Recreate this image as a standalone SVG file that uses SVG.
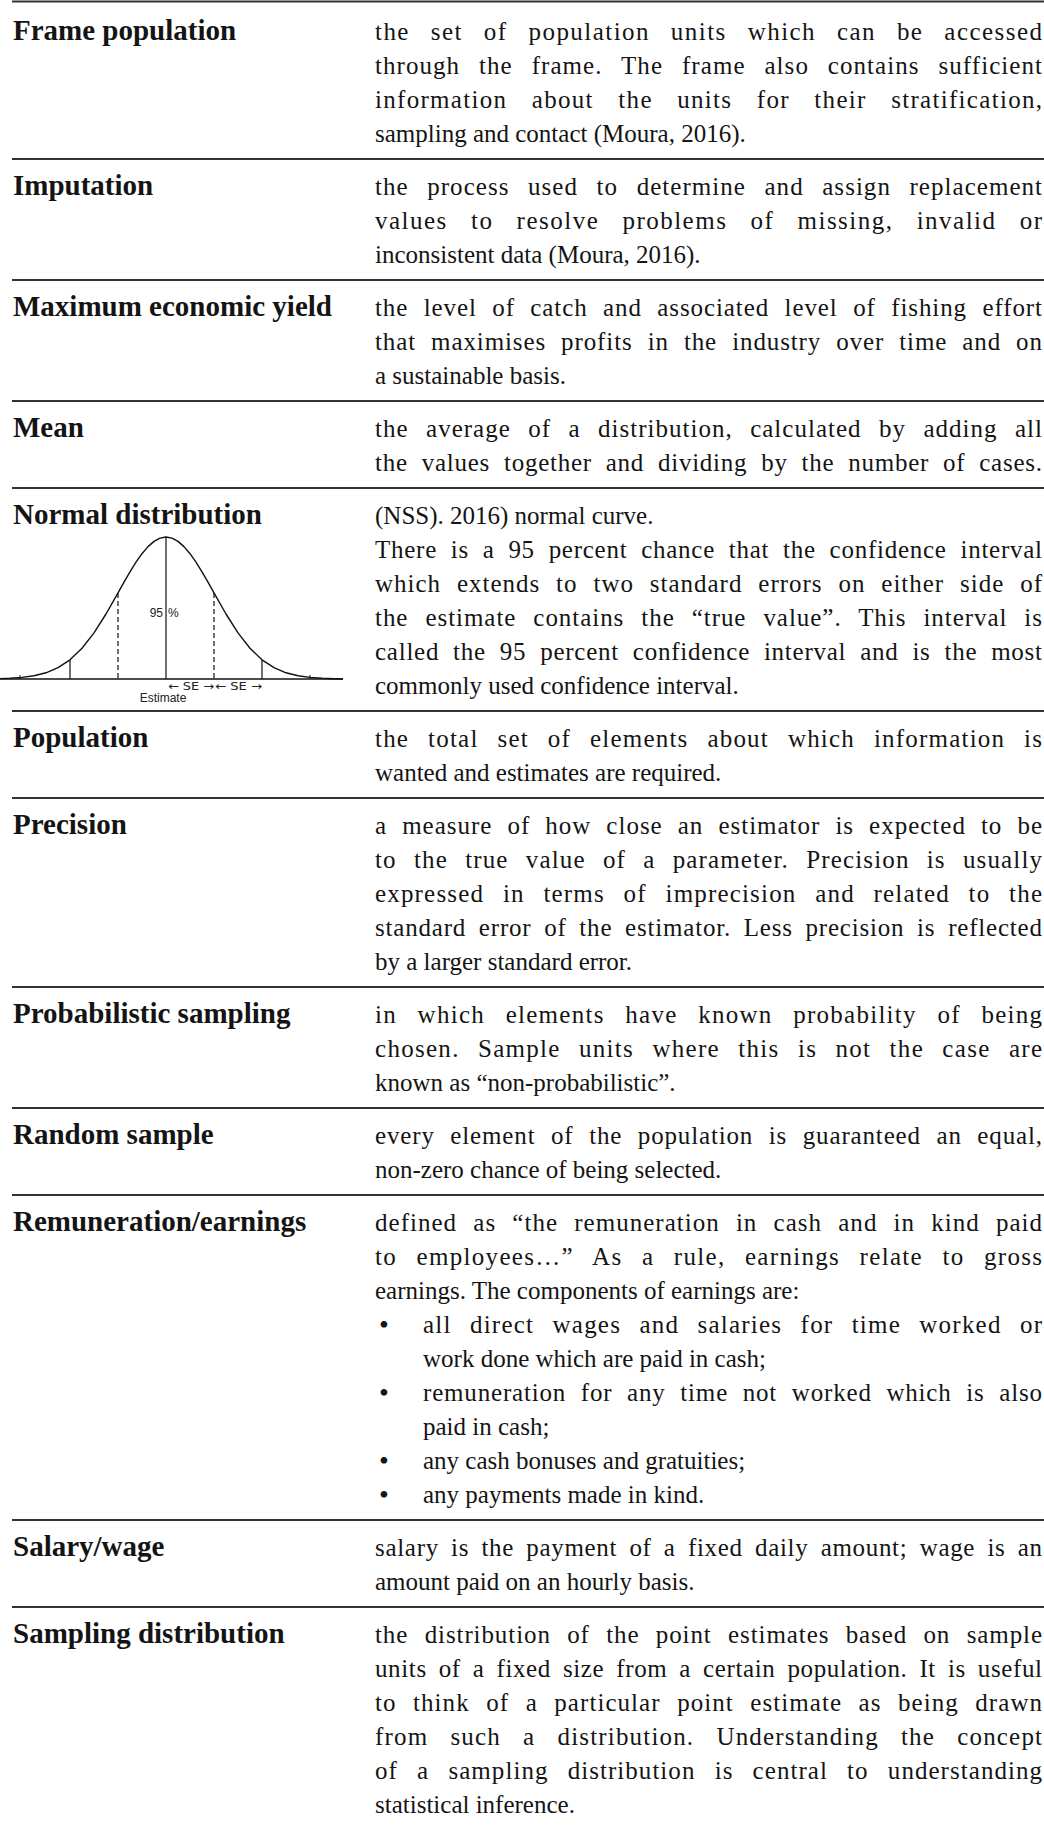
<svg xmlns="http://www.w3.org/2000/svg" width="1044" height="1830" viewBox="0 0 1044 1830">
  <style>
    .term { font-family: "Liberation Serif", "Times New Roman", serif; font-weight: bold; font-size: 29px; fill: #141414; }
    .def { font-family: "Liberation Serif", "Times New Roman", serif; font-size: 25px; fill: #141414; }
    .bullet { font-family: "Liberation Serif", "Times New Roman", serif; font-size: 28px; fill: #141414; }
    .rule { stroke: #333; stroke-width: 2; }
    .fig { stroke: #111; fill: none; }
    .figtext { font-family: "Liberation Sans", Arial, sans-serif; font-size: 12px; fill: #222; }
    .arrowtext { font-family: "DejaVu Sans", "Liberation Sans", sans-serif; font-size: 11px; fill: #222; }
  </style>

  <!-- horizontal table rules -->
  <g id="rules">
    <line class="rule" x1="12" y1="1.5" x2="1044" y2="1.5"/>
    <line class="rule" x1="12" y1="159" x2="1044" y2="159"/>
    <line class="rule" x1="12" y1="280" x2="1044" y2="280"/>
    <line class="rule" x1="12" y1="401" x2="1044" y2="401"/>
    <line class="rule" x1="12" y1="488" x2="1044" y2="488"/>
    <line class="rule" x1="12" y1="711" x2="1044" y2="711"/>
    <line class="rule" x1="12" y1="798" x2="1044" y2="798"/>
    <line class="rule" x1="12" y1="987" x2="1044" y2="987"/>
    <line class="rule" x1="12" y1="1108" x2="1044" y2="1108"/>
    <line class="rule" x1="12" y1="1195" x2="1044" y2="1195"/>
    <line class="rule" x1="12" y1="1520" x2="1044" y2="1520"/>
    <line class="rule" x1="12" y1="1607" x2="1044" y2="1607"/>
  </g>

  <!-- justified lines: word-spacing takes most of the slack, textLength closes the rest -->
  <g id="row-frame-population">
    <text class="term" x="13" y="40">Frame population</text>
    <text class="def" x="375" y="40" textLength="667" lengthAdjust="spacing" word-spacing="13.2">the set of population units which can be accessed</text>
    <text class="def" x="375" y="74" textLength="667" lengthAdjust="spacing" word-spacing="11.6">through the frame. The frame also contains sufficient</text>
    <text class="def" x="375" y="108" textLength="667" lengthAdjust="spacing" word-spacing="16.9">information about the units for their stratification,</text>
    <text class="def" x="375" y="142">sampling and contact (Moura, 2016).</text>
  </g>

  <g id="row-imputation">
    <text class="term" x="13" y="195">Imputation</text>
    <text class="def" x="375" y="195" textLength="667" lengthAdjust="spacing" word-spacing="11.3">the process used to determine and assign replacement</text>
    <text class="def" x="375" y="229" textLength="667" lengthAdjust="spacing" word-spacing="15.4">values to resolve problems of missing, invalid or</text>
    <text class="def" x="375" y="263">inconsistent data (Moura, 2016).</text>
  </g>

  <g id="row-maximum-economic-yield">
    <text class="term" x="13" y="316">Maximum economic yield</text>
    <text class="def" x="375" y="316" textLength="667" lengthAdjust="spacing" word-spacing="8.3">the level of catch and associated level of fishing effort</text>
    <text class="def" x="375" y="350" textLength="667" lengthAdjust="spacing" word-spacing="7.9">that maximises profits in the industry over time and on</text>
    <text class="def" x="375" y="384">a sustainable basis.</text>
  </g>

  <g id="row-mean">
    <text class="term" x="13" y="437">Mean</text>
    <text class="def" x="375" y="437" textLength="667" lengthAdjust="spacing" word-spacing="10.2">the average of a distribution, calculated by adding all</text>
    <text class="def" x="375" y="471" textLength="667" lengthAdjust="spacing" word-spacing="6.9">the values together and dividing by the number of cases.</text>
  </g>

  <g id="row-normal-distribution">
    <text class="term" x="13" y="524">Normal distribution</text>
    <!-- bell curve with standard-error markers -->
    <g id="normal-curve">
      <line class="fig" x1="0" y1="679" x2="343" y2="679" stroke-width="1.4"/>
      <polyline class="fig" stroke-width="1.4" stroke-linejoin="round" points="-2,678.7 10,678.3 22,677.4 34,675.8 46,672.8 58,667.7 70,659.8 82,648.3 94,632.9 106,614 118,592.9 124,582.2 130,571.8 136,562.2 142,553.7 148,546.6 154,541.4 160,538.1 166,537 172,538.1 178,541.4 184,546.6 190,553.7 196,562.2 202,571.8 208,582.2 214,592.9 226,614 238,632.9 250,648.3 262,659.8 274,667.7 286,672.8 298,675.8 310,677.4 322,678.3 334,678.7 343,679"/>
      <line class="fig" x1="166" y1="537" x2="166" y2="679" stroke-width="1.2"/>
      <line class="fig" x1="118" y1="593" x2="118" y2="679" stroke-width="1.2" stroke-dasharray="5 3"/>
      <line class="fig" x1="214" y1="593" x2="214" y2="679" stroke-width="1.2" stroke-dasharray="5 3"/>
      <line class="fig" x1="70" y1="660" x2="70" y2="679" stroke-width="1.2"/>
      <line class="fig" x1="262" y1="660" x2="262" y2="679" stroke-width="1.2"/>
      <line class="fig" x1="20" y1="675" x2="20" y2="679" stroke-width="1"/>
      <line class="fig" x1="310" y1="675" x2="310" y2="679" stroke-width="1"/>
      <text class="figtext" x="163" y="617" text-anchor="end">95</text>
      <text class="figtext" x="168" y="617">%</text>
      <text class="arrowtext" x="168" y="690" textLength="46" lengthAdjust="spacingAndGlyphs">← SE →</text>
      <text class="arrowtext" x="215" y="690" textLength="47" lengthAdjust="spacingAndGlyphs">← SE →</text>
      <text class="figtext" x="163" y="702" text-anchor="middle">Estimate</text>
    </g>
    <text class="def" x="375" y="524">(NSS). 2016) normal curve.</text>
    <text class="def" x="375" y="558" textLength="667" lengthAdjust="spacing" word-spacing="6.8">There is a 95 percent chance that the confidence interval</text>
    <text class="def" x="375" y="592" textLength="667" lengthAdjust="spacing" word-spacing="8.7">which extends to two standard errors on either side of</text>
    <text class="def" x="375" y="626" textLength="667" lengthAdjust="spacing" word-spacing="9.8">the estimate contains the “true value”. This interval is</text>
    <text class="def" x="375" y="660" textLength="667" lengthAdjust="spacing" word-spacing="6.9">called the 95 percent confidence interval and is the most</text>
    <text class="def" x="375" y="694">commonly used confidence interval.</text>
  </g>

  <g id="row-population">
    <text class="term" x="13" y="747">Population</text>
    <text class="def" x="375" y="747" textLength="667" lengthAdjust="spacing" word-spacing="11.5">the total set of elements about which information is</text>
    <text class="def" x="375" y="781">wanted and estimates are required.</text>
  </g>

  <g id="row-precision">
    <text class="term" x="13" y="834">Precision</text>
    <text class="def" x="375" y="834" textLength="667" lengthAdjust="spacing" word-spacing="7.8">a measure of how close an estimator is expected to be</text>
    <text class="def" x="375" y="868" textLength="667" lengthAdjust="spacing" word-spacing="9.8">to the true value of a parameter. Precision is usually</text>
    <text class="def" x="375" y="902" textLength="667" lengthAdjust="spacing" word-spacing="11.3">expressed in terms of imprecision and related to the</text>
    <text class="def" x="375" y="936" textLength="667" lengthAdjust="spacing" word-spacing="5.7">standard error of the estimator. Less precision is reflected</text>
    <text class="def" x="375" y="970">by a larger standard error.</text>
  </g>

  <g id="row-probabilistic-sampling">
    <text class="term" x="13" y="1023">Probabilistic sampling</text>
    <text class="def" x="375" y="1023" textLength="667" lengthAdjust="spacing" word-spacing="13.1">in which elements have known probability of being</text>
    <text class="def" x="375" y="1057" textLength="667" lengthAdjust="spacing" word-spacing="10.8">chosen. Sample units where this is not the case are</text>
    <text class="def" x="375" y="1091">known as “non-probabilistic”.</text>
  </g>

  <g id="row-random-sample">
    <text class="term" x="13" y="1144">Random sample</text>
    <text class="def" x="375" y="1144" textLength="667" lengthAdjust="spacing" word-spacing="8.5">every element of the population is guaranteed an equal,</text>
    <text class="def" x="375" y="1178">non-zero chance of being selected.</text>
  </g>

  <g id="row-remuneration-earnings">
    <text class="term" x="13" y="1231">Remuneration/earnings</text>
    <text class="def" x="375" y="1231" textLength="667" lengthAdjust="spacing" word-spacing="8.9">defined as “the remuneration in cash and in kind paid</text>
    <text class="def" x="375" y="1265" textLength="667" lengthAdjust="spacing" word-spacing="11.9">to employees…” As a rule, earnings relate to gross</text>
    <text class="def" x="375" y="1299">earnings. The components of earnings are:</text>
    <text class="bullet" x="379" y="1334">•</text>
    <text class="def" x="423" y="1333" textLength="619" lengthAdjust="spacing" word-spacing="10.8">all direct wages and salaries for time worked or</text>
    <text class="def" x="423" y="1367">work done which are paid in cash;</text>
    <text class="bullet" x="379" y="1402">•</text>
    <text class="def" x="423" y="1401" textLength="619" lengthAdjust="spacing" word-spacing="7.6">remuneration for any time not worked which is also</text>
    <text class="def" x="423" y="1435">paid in cash;</text>
    <text class="bullet" x="379" y="1470">•</text>
    <text class="def" x="423" y="1469">any cash bonuses and gratuities;</text>
    <text class="bullet" x="379" y="1504">•</text>
    <text class="def" x="423" y="1503">any payments made in kind.</text>
  </g>

  <g id="row-salary-wage">
    <text class="term" x="13" y="1556">Salary/wage</text>
    <text class="def" x="375" y="1556" textLength="667" lengthAdjust="spacing" word-spacing="5.3">salary is the payment of a fixed daily amount; wage is an</text>
    <text class="def" x="375" y="1590">amount paid on an hourly basis.</text>
  </g>

  <g id="row-sampling-distribution">
    <text class="term" x="13" y="1643">Sampling distribution</text>
    <text class="def" x="375" y="1643" textLength="667" lengthAdjust="spacing" word-spacing="9.2">the distribution of the point estimates based on sample</text>
    <text class="def" x="375" y="1677" textLength="667" lengthAdjust="spacing" word-spacing="5.1">units of a fixed size from a certain population. It is useful</text>
    <text class="def" x="375" y="1711" textLength="667" lengthAdjust="spacing" word-spacing="9.2">to think of a particular point estimate as being drawn</text>
    <text class="def" x="375" y="1745" textLength="667" lengthAdjust="spacing" word-spacing="14.7">from such a distribution. Understanding the concept</text>
    <text class="def" x="375" y="1779" textLength="667" lengthAdjust="spacing" word-spacing="11.9">of a sampling distribution is central to understanding</text>
    <text class="def" x="375" y="1813">statistical inference.</text>
  </g>
</svg>
